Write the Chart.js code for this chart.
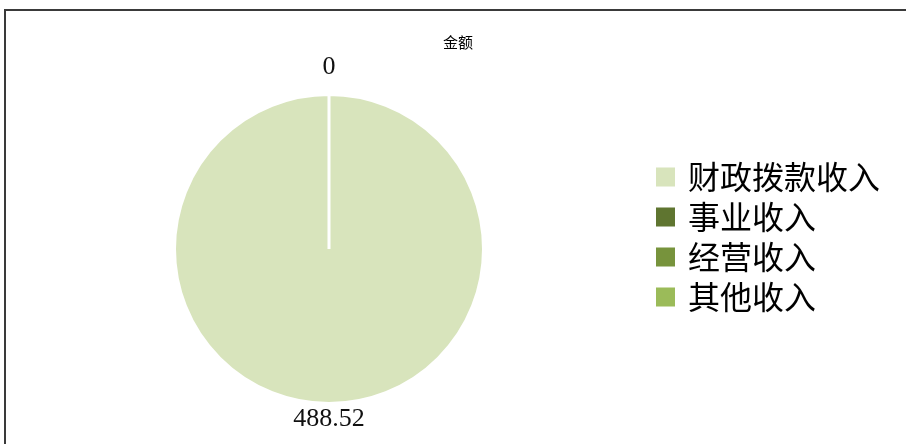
<!DOCTYPE html>
<html>
<head>
<meta charset="utf-8">
<script src="https://cdn.jsdelivr.net/npm/chart.js@4"></script>
<style>
  html, body { margin:0; padding:0; background:#fff; }
  #wrap { width:906px; height:444px; }
</style>
</head>
<body>
<div id="wrap"><canvas id="chartPie" width="906" height="444"></canvas></div>
<script>
/* ===== dados ===== */
const chartTitle = '金额';
const categorias = ['财政拨款收入', '事业收入', '经营收入', '其他收入'];
const valores = [488.52, 0, 0, 0];
const cores = ['#d8e4bc', '#5f7530', '#77933c', '#9bbb59'];

/* ===== helpers ===== */
const CJK = '"Noto Sans CJK SC", "Noto Sans", sans-serif';
const SERIF = '"Liberation Serif", "DejaVu Serif", serif';

// moldura do gráfico (borda superior/esquerda) + título
const framePlugin = {
  id: 'frame',
  beforeDraw(chart) {
    const ctx = chart.ctx;
    ctx.save();
    ctx.fillStyle = '#fff';
    ctx.fillRect(0, 0, chart.width, chart.height);
    ctx.strokeStyle = '#3a3a3a';
    ctx.lineWidth = 2;
    ctx.beginPath();
    ctx.moveTo(5, chart.height);
    ctx.lineTo(5, 10);
    ctx.lineTo(chart.width, 10);
    ctx.stroke();
    ctx.fillStyle = '#000';
    ctx.font = '15px ' + CJK;
    ctx.textAlign = 'center';
    ctx.textBaseline = 'middle';
    ctx.fillText(chartTitle, 458, 42);
    ctx.restore();
  }
};

// rótulos de valor fora das fatias
const labelsPlugin = {
  id: 'sliceLabels',
  afterDatasetsDraw(chart) {
    const ctx = chart.ctx;
    const meta = chart.getDatasetMeta(0);
    const vistos = {};
    ctx.save();
    ctx.fillStyle = '#111';
    ctx.font = '26px ' + SERIF;
    ctx.textAlign = 'center';
    ctx.textBaseline = 'middle';
    meta.data.forEach((arc, i) => {
      const p = arc.getProps(['x', 'y', 'startAngle', 'endAngle', 'outerRadius'], true);
      const mid = (p.startAngle + p.endAngle) / 2;
      const dist = p.outerRadius + 21.5 - 5.5 * Math.sin(mid);
      const x = p.x + Math.cos(mid) * dist;
      const y = p.y + Math.sin(mid) * dist;
      const key = Math.round(x) + ',' + Math.round(y);
      if (vistos[key]) return;
      vistos[key] = true;
      ctx.fillText(String(valores[i]), x, y);
    });
    ctx.restore();
  }
};

// legenda à direita
const legendPlugin = {
  id: 'sideLegend',
  afterDraw(chart) {
    const ctx = chart.ctx;
    const ds = chart.data.datasets[0];
    ctx.save();
    ctx.font = '32px ' + CJK;
    ctx.textBaseline = 'middle';
    ctx.textAlign = 'left';
    chart.data.labels.forEach((lab, i) => {
      const cy = 177 + i * 40;
      ctx.fillStyle = ds.backgroundColor[i];
      ctx.fillRect(656, cy - 9.5, 19, 19);
      ctx.fillStyle = '#000';
      ctx.fillText(lab, 688, cy);
    });
    ctx.restore();
  }
};

/* ===== gráfico ===== */
const ctxP = document.getElementById('chartPie').getContext('2d');
const chartPie = new Chart(ctxP, {
  type: 'pie',
  data: {
    labels: categorias,
    datasets: [{
      data: valores,
      backgroundColor: cores,
      borderColor: '#fff',
      borderWidth: 3
    }]
  },
  options: {
    responsive: false,
    animation: false,
    layout: { padding: { left: 173, right: 421, top: 93, bottom: 39 } },
    plugins: {
      legend: { display: false },
      title: { display: false },
      tooltip: { enabled: false }
    }
  },
  plugins: [framePlugin, labelsPlugin, legendPlugin]
});
</script>
</body>
</html>
